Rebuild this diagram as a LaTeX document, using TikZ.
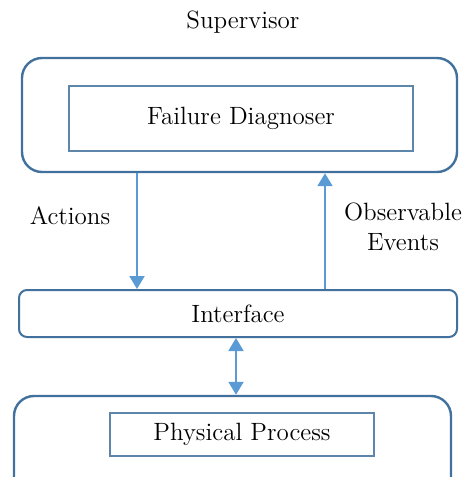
\documentclass[tikz,border=0pt]{standalone}
\usetikzlibrary{arrows.meta}

\definecolor{boxblue}{HTML}{41719C}
\definecolor{arrowblue}{HTML}{5B9BD5}

\begin{document}
\begin{tikzpicture}
    [
        x=0.5pt,
        y=-0.5pt,
        font=\fontsize{12.5}{15}\selectfont,
        outer/.style={
                draw=boxblue,
                line width=1.2pt,
                rounded corners=10pt,
                minimum width=#1,
            },
        inner/.style={
                draw=boxblue!85,
                line width=1.1pt,
                minimum width=#1,
            },
        flow/.style={
                draw=arrowblue,
                line width=1pt,
                arrows={-Triangle[width=7.5pt,length=6.5pt]},
            },
    ]

    % page, the last box runs past its bottom edge
    \useasboundingbox (0,0) rectangle (465,477);
    \clip (0,0) rectangle (465,477);

    % supervisor
    \node (suplabel) at (243,22) {Supervisor};
    \node [outer=217.5pt, minimum height=57pt] (sup) at (239.5,115) {};
    \node [inner=172pt, minimum height=32.5pt] (diag) at (241,118.5) {Failure Diagnoser};

    % interface
    \node [outer=219pt, minimum height=23.5pt, rounded corners=4pt, line width=1pt] (iface) at (238,313.5) {Interface};

    % plant
    \node [outer=218.5pt, minimum height=52pt] (plant) at (232.5,448) {};
    \node [inner=132pt, minimum height=21.5pt] (proc) at (242,434.5) {Physical Process};

    % signals
    \coordinate (actTop) at (sup.south -| 137,0);
    \coordinate (actBot) at (iface.north -| 137,0);
    \coordinate (obsBot) at (iface.north -| 325,0);
    \coordinate (obsTop) at (sup.south -| 325,0);
    \draw [flow] (actTop) -- (actBot);
    \draw [flow] (obsBot) -- (obsTop);
    \draw [flow, arrows={Triangle[width=7.5pt,length=6.5pt]-Triangle[width=7.5pt,length=6.5pt]}] (iface.south -| 236,0) -- (plant.north -| 236,0);

    \node (actlabel) at (70,216) {Actions};
    \node [align=center] (obslabel) at (403,227) {Observable\\Events};
\end{tikzpicture}
\end{document}
